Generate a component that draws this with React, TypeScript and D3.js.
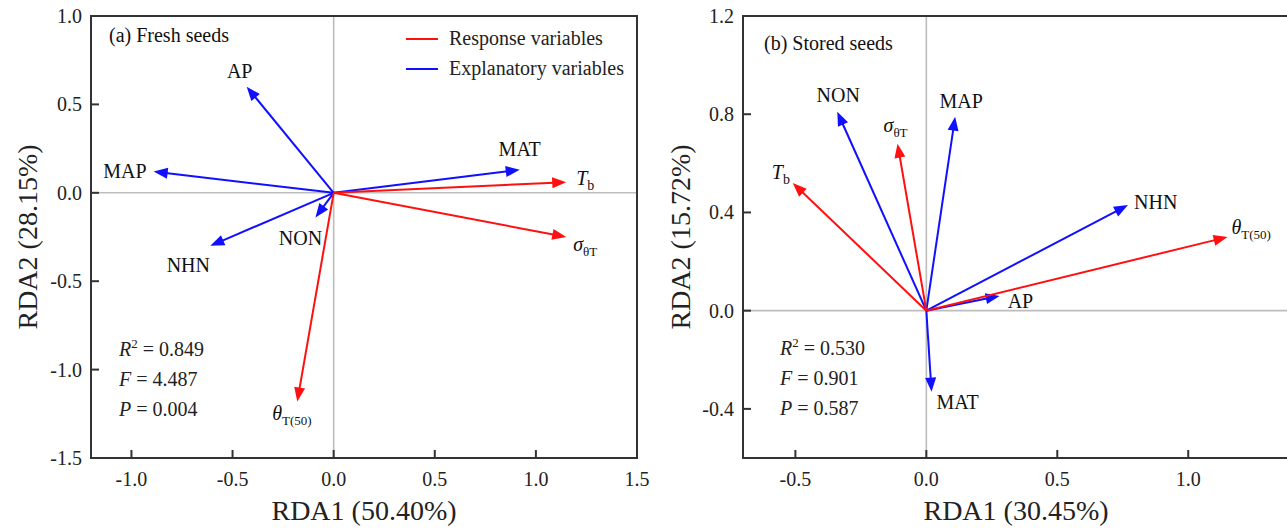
import React from 'react';
import * as d3 from 'd3';

// (a) fresh seeds: arrow tips in RDA1 / RDA2 units
const freshNames = ['AP', 'MAP', 'NHN', 'NON', 'MAT', 'theta', 'Tb', 'sigma'];
const freshKinds = ['exp', 'exp', 'exp', 'exp', 'exp', 'resp', 'resp', 'resp'];
const freshRDA1 = [-0.43, -0.89, -0.61, -0.09, 0.92, -0.18, 1.15, 1.15];
const freshRDA2 = [0.60, 0.12, -0.30, -0.14, 0.13, -1.18, 0.06, -0.25];

// (b) stored seeds
const storedNames = ['NON', 'MAP', 'NHN', 'AP', 'MAT', 'sigma', 'Tb', 'theta'];
const storedKinds = ['exp', 'exp', 'exp', 'exp', 'exp', 'resp', 'resp', 'resp'];
const storedRDA1 = [-0.34, 0.11, 0.77, 0.28, 0.02, -0.11, -0.51, 1.15];
const storedRDA2 = [0.81, 0.79, 0.43, 0.06, -0.33, 0.68, 0.52, 0.30];

const freshXTicks = [-1.0, -0.5, 0.0, 0.5, 1.0, 1.5];
const freshYTicks = [-1.5, -1.0, -0.5, 0.0, 0.5, 1.0];
const storedXTicks = [-0.5, 0.0, 0.5, 1.0];
const storedYTicks = [-0.4, 0.0, 0.4, 0.8, 1.2];

const freshStats = ['0.849', '4.487', '0.004'];
const storedStats = ['0.530', '0.901', '0.587'];

const legendLabels = ['Response variables', 'Explanatory variables'];

const FONT = "'Liberation Serif', 'Times New Roman', 'DejaVu Serif', serif";
const RED = '#ff1010';
const BLUE = '#1010ff';
const AXIS = '#333';

// label placement relative to the arrow tip, in pixels
type LabelPos = { dx: number; dy: number; anchor: 'start' | 'middle' | 'end' };
const freshLabelPos: Record<string, LabelPos> = {
  AP: { dx: -7, dy: -9, anchor: 'middle' },
  MAP: { dx: -7, dy: 6, anchor: 'end' },
  NHN: { dx: -22, dy: 26, anchor: 'middle' },
  NON: { dx: -15, dy: 27, anchor: 'middle' },
  MAT: { dx: 0, dy: -14, anchor: 'middle' },
  Tb: { dx: 10, dy: 3, anchor: 'start' },
  sigma: { dx: 7, dy: 14, anchor: 'start' },
  theta: { dx: -25, dy: 19, anchor: 'start' },
};
const storedLabelPos: Record<string, LabelPos> = {
  NON: { dx: 1, dy: -10, anchor: 'middle' },
  MAP: { dx: 6, dy: -9, anchor: 'middle' },
  NHN: { dx: 6, dy: 4, anchor: 'start' },
  AP: { dx: 8, dy: 12, anchor: 'start' },
  MAT: { dx: 5, dy: 17, anchor: 'start' },
  sigma: { dx: -14, dy: -12, anchor: 'start' },
  Tb: { dx: -21, dy: -4, anchor: 'start' },
  theta: { dx: 4, dy: -3, anchor: 'start' },
};

const fmt = (v: number) => d3.format('.1f')(v).replace('\u2212', '-');

function labelText(name: string) {
  if (name === 'Tb') {
    return (
      <>
        <tspan fontStyle="italic">T</tspan>
        <tspan fontSize={14} dy={5}>b</tspan>
      </>
    );
  }
  if (name === 'sigma') {
    return (
      <>
        <tspan fontStyle="italic">σ</tspan>
        <tspan fontSize={13} dy={5}>θT</tspan>
      </>
    );
  }
  if (name === 'theta') {
    return (
      <>
        <tspan fontStyle="italic">θ</tspan>
        <tspan fontSize={13} dy={5}>T(50)</tspan>
      </>
    );
  }
  return name;
}

interface PanelProps {
  left: number;
  right: number;
  top: number;
  bottom: number;
  xDomain: [number, number];
  yDomain: [number, number];
  xTicks: number[];
  yTicks: number[];
  names: string[];
  kinds: string[];
  rda1: number[];
  rda2: number[];
  labelPos: Record<string, LabelPos>;
  title: string;
  titleX: number;
  titleY: number;
  xTitle: string;
  xTitleX: number;
  yTitle: string;
  yTitleX: number;
  stats: string[];
  statsX: number;
  statsY: number;
  showLegend?: boolean;
}

const Panel: React.FC<PanelProps> = (p) => {
  const x = d3.scaleLinear().domain(p.xDomain).range([p.left, p.right]);
  const y = d3.scaleLinear().domain(p.yDomain).range([p.bottom, p.top]);
  const ox = x(0);
  const oy = y(0);
  const headLen = 14;
  const headHalf = 5.5;
  const tickLen = 8;

  // blue arrows first, red drawn over them
  const order = d3.range(p.names.length).sort((a, b) =>
    d3.ascending(p.kinds[a] === 'resp' ? 1 : 0, p.kinds[b] === 'resp' ? 1 : 0));

  return (
    <g>
      {/* zero lines */}
      <line x1={p.left} x2={p.right} y1={oy} y2={oy} stroke="#bdbdbd" strokeWidth={1.6} />
      <line x1={ox} x2={ox} y1={p.top} y2={p.bottom} stroke="#bdbdbd" strokeWidth={1.6} />

      {order.map(i => {
        const tx = x(p.rda1[i]);
        const ty = y(p.rda2[i]);
        const ang = Math.atan2(ty - oy, tx - ox);
        const ux = Math.cos(ang);
        const uy = Math.sin(ang);
        const bx = tx - ux * headLen;
        const by = ty - uy * headLen;
        const color = p.kinds[i] === 'resp' ? RED : BLUE;
        const pts = [
          [tx, ty],
          [bx - uy * headHalf, by + ux * headHalf],
          [bx + uy * headHalf, by - ux * headHalf],
        ].map(d => d.join(',')).join(' ');
        const lp = p.labelPos[p.names[i]];
        return (
          <g key={p.names[i]}>
            <line x1={ox} y1={oy} x2={bx + ux * 2} y2={by + uy * 2} stroke={color} strokeWidth={2} />
            <polygon points={pts} fill={color} />
            <text x={tx + lp.dx} y={ty + lp.dy} textAnchor={lp.anchor} fontSize={20} fill="#111">
              {labelText(p.names[i])}
            </text>
          </g>
        );
      })}

      {/* frame */}
      <rect x={p.left} y={p.top} width={p.right - p.left} height={p.bottom - p.top}
        fill="none" stroke={AXIS} strokeWidth={2} />

      {p.xTicks.map(t => (
        <g key={`x${t}`}>
          <line x1={x(t)} x2={x(t)} y1={p.bottom} y2={p.bottom - tickLen} stroke={AXIS} strokeWidth={2} />
          <text x={x(t)} y={p.bottom + 28} textAnchor="middle" fontSize={20} fill="#222">{fmt(t)}</text>
        </g>
      ))}
      {p.yTicks.map(t => (
        <g key={`y${t}`}>
          <line x1={p.left} x2={p.left + tickLen} y1={y(t)} y2={y(t)} stroke={AXIS} strokeWidth={2} />
          <text x={p.left - 9} y={y(t)} dy="0.35em" textAnchor="end" fontSize={20} fill="#222">{fmt(t)}</text>
        </g>
      ))}

      <text x={p.xTitleX} y={520} textAnchor="middle" fontSize={28} fill="#222">{p.xTitle}</text>
      <text transform={`translate(${p.yTitleX},${(p.top + p.bottom) / 2}) rotate(-90)`}
        textAnchor="middle" fontSize={28} fill="#222">{p.yTitle}</text>

      <text x={p.titleX} y={p.titleY} fontSize={20} fill="#111">{p.title}</text>

      {['R', 'F', 'P'].map((s, i) => (
        <text key={s} x={p.statsX} y={p.statsY + i * 30} fontSize={20} fill="#222">
          <tspan fontStyle="italic">{s}</tspan>
          {s === 'R' ? <tspan fontSize={13} dy={-8}>2</tspan> : null}
          <tspan dy={s === 'R' ? 8 : 0}>{` = ${p.stats[i]}`}</tspan>
        </text>
      ))}

      {p.showLegend && legendLabels.map((l, i) => (
        <g key={l}>
          <line x1={406} x2={438} y1={39 + i * 30} y2={39 + i * 30}
            stroke={i === 0 ? RED : BLUE} strokeWidth={2} />
          <text x={449} y={45 + i * 30} fontSize={20} fill="#222">{l}</text>
        </g>
      ))}
    </g>
  );
};

export default function App() {
  return (
    <svg width={1287} height={530} style={{ position: 'absolute', left: 0, top: 0, background: '#fff', fontFamily: FONT }}>
      <style>{`text, tspan { font-family: ${FONT}; }`}</style>
      <Panel left={91} right={637} top={16} bottom={458}
        xDomain={[-1.2, 1.5]} yDomain={[-1.5, 1.0]}
        xTicks={freshXTicks} yTicks={freshYTicks}
        names={freshNames} kinds={freshKinds} rda1={freshRDA1} rda2={freshRDA2}
        labelPos={freshLabelPos}
        title="(a) Fresh seeds" titleX={109} titleY={42}
        xTitle="RDA1 (50.40%)" xTitleX={364} yTitle="RDA2 (28.15%)" yTitleX={37}
        stats={freshStats} statsX={119} statsY={356}
        showLegend />
      <Panel left={743} right={1293} top={16} bottom={458}
        xDomain={[-0.7, 1.4]} yDomain={[-0.6, 1.2]}
        xTicks={storedXTicks} yTicks={storedYTicks}
        names={storedNames} kinds={storedKinds} rda1={storedRDA1} rda2={storedRDA2}
        labelPos={storedLabelPos}
        title="(b) Stored seeds" titleX={764} titleY={50}
        xTitle="RDA1 (30.45%)" xTitleX={1016} yTitle="RDA2 (15.72%)" yTitleX={690}
        stats={storedStats} statsX={780} statsY={355} />
    </svg>
  );
}
